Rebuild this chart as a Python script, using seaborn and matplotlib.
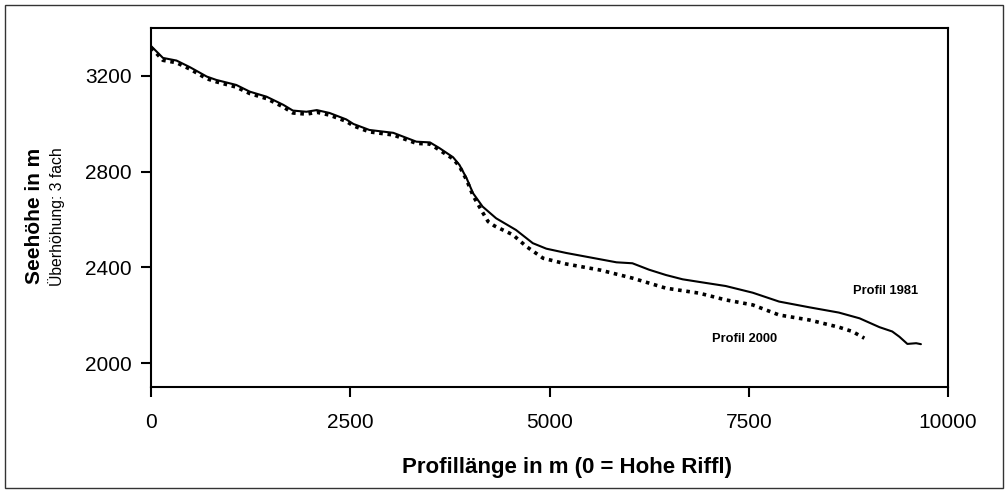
import matplotlib
matplotlib.use("Agg")
import matplotlib.pyplot as plt
import seaborn as sns
import pandas as pd
from matplotlib.patches import Rectangle
from matplotlib import font_manager

# Profile 1981 (solid)
x_1981 = [0, 150, 320, 490, 700, 820, 1070, 1240, 1450, 1660, 1780, 1950, 2080, 2240,
          2450, 2540, 2740, 3040, 3330, 3500, 3620, 3790, 3870, 3960, 4040, 4160, 4330,
          4580, 4790, 4960, 5210, 5630, 5840, 6040, 6250, 6460, 6670, 6880, 7210, 7550,
          7880, 8260, 8630, 8890, 9140, 9300, 9390, 9490, 9600, 9660]
y_1981 = [3325, 3275, 3264, 3236, 3197, 3183, 3162, 3134, 3113, 3079, 3055, 3050, 3057, 3045,
          3018, 2999, 2974, 2962, 2925, 2922, 2898, 2860, 2828, 2772, 2710, 2654, 2605,
          2556, 2501, 2478, 2460, 2434, 2421, 2417, 2390, 2368, 2350, 2339, 2322, 2294,
          2257, 2233, 2211, 2187, 2150, 2132, 2110, 2080, 2083, 2079]

# Profile 2000 (dotted)
x_2000 = [0, 150, 320, 490, 700, 820, 1070, 1240, 1450, 1660, 1780, 1950, 2080, 2240,
          2450, 2540, 2740, 3040, 3330, 3500, 3620, 3790, 3870, 3960, 4040, 4160, 4230,
          4310, 4540, 4710, 4920, 5210, 5630, 6040, 6250, 6460, 6880, 7210, 7550, 7880,
          8260, 8630, 8800, 8950]
y_2000 = [3318, 3265, 3255, 3228, 3188, 3175, 3153, 3126, 3105, 3070, 3045, 3040, 3048, 3036,
          3010, 2991, 2966, 2953, 2918, 2915, 2890, 2853, 2822, 2765, 2700, 2630, 2591,
          2573, 2536, 2487, 2438, 2414, 2389, 2355, 2334, 2313, 2292, 2264, 2243, 2201,
          2180, 2150, 2132, 2104]

x_ticks = [0, 2500, 5000, 7500, 10000]
y_ticks = [2000, 2400, 2800, 3200]

sns.set_theme(style="white")
plt.rcParams['font.family'] = ['Liberation Sans', 'DejaVu Sans']
plt.rcParams['text.color'] = 'black'

available = {f.name for f in font_manager.fontManager.ttflist}
narrow = 'Liberation Sans Narrow' if 'Liberation Sans Narrow' in available else None

fig = plt.figure(figsize=(10.08, 4.93), dpi=100)
ax = fig.add_axes([0.1498, 0.215, 0.7907, 0.7282])

df81 = pd.DataFrame({"x": x_1981, "y": y_1981})
df00 = pd.DataFrame({"x": x_2000, "y": y_2000})

sns.lineplot(data=df81, x="x", y="y", ax=ax, color="black", linewidth=1.5,
             sort=False, estimator=None)
sns.lineplot(data=df00, x="x", y="y", ax=ax, color="black", linewidth=2.6,
             linestyle=(0, (1, 1.3)), sort=False, estimator=None)

ax.set_xlim(0, 10000)
ax.set_ylim(1900, 3400)
ax.set_xticks(x_ticks)
ax.set_yticks(y_ticks)
ax.set_xticklabels([str(t) for t in x_ticks])
ax.set_yticklabels([str(t) for t in y_ticks])
ax.tick_params(axis="both", direction="out", length=7, width=1.5, colors="black",
               labelcolor="black", labelsize=15, bottom=True, left=True,
               top=False, right=False)
ax.tick_params(axis="y", pad=7)
ax.tick_params(axis="x", pad=12)
ax.set_xlabel("")
ax.set_ylabel("")
for s in ax.spines.values():
    s.set_visible(True)
    s.set_color("black")
    s.set_linewidth(1.5)

ax.text(9219, 2301, "Profil 1981", fontsize=9.3, fontweight="bold", color="black",
        ha="center", va="center")
ax.text(7450, 2101, "Profil 2000", fontsize=9.3, fontweight="bold", color="black",
        ha="center", va="center")

fig.text(567 / 1008, 1 - 467 / 493, "Profillänge in m (0 = Hohe Riffl)", fontsize=16,
         fontweight="bold", color="black", ha="center", va="center")
fig.text(34 / 1008, 1 - 216 / 493, "Seehöhe in m", fontsize=15, fontweight="bold",
         color="black", rotation=90, ha="center", va="center")
if narrow:
    fig.text(57 / 1008, 1 - 217 / 493, "Überhöhung: 3 fach", fontsize=13.5,
             family=[narrow, 'Liberation Sans'], color="black", rotation=90,
             ha="center", va="center")
else:
    fig.text(57 / 1008, 1 - 217 / 493, "Überhöhung: 3 fach", fontsize=11.3,
             color="black", rotation=90, ha="center", va="center")

fig.patches.append(Rectangle((5 / 1008, 5 / 493), 998 / 1008, 483 / 493,
                             transform=fig.transFigure, fill=False,
                             edgecolor="#333333", linewidth=1.0))

fig.savefig("out.png", dpi=100)
